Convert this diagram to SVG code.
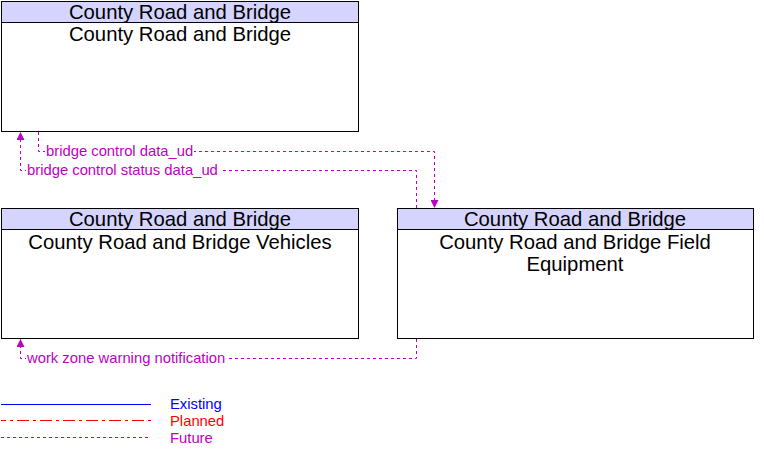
<svg xmlns="http://www.w3.org/2000/svg" width="764" height="456" viewBox="0 0 764 456">
<style>
.box{fill:#fff;stroke:#000;stroke-width:1}
.hdr{fill:#d4d4ff;stroke:#000;stroke-width:1}
.t{font-family:"Liberation Sans",Arial,sans-serif;font-size:20.3px;fill:#000;text-anchor:middle}
.lbl{font-family:"Liberation Sans",Arial,sans-serif;font-size:14.8px;fill:#bf00bf}
.bg{fill:#fff}
.fut{fill:none;stroke:#bf00bf;stroke-width:1;stroke-dasharray:3,3}
</style>
<defs>
<marker id="ah" viewBox="0 0 10 10" refX="10" refY="5" markerWidth="8" markerHeight="8" orient="auto" markerUnits="userSpaceOnUse">
<path d="M0,0 L10,5 L0,10 z" fill="#bf00bf"/>
</marker>
</defs>
<g id="node1">
<rect class="box" x="1.5" y="1.5" width="357" height="130"/>
<rect class="hdr" x="1.5" y="1.5" width="357" height="21"/>
<text class="t" x="180" y="19">County Road and Bridge</text>
<text class="t" x="180" y="41">County Road and Bridge</text>
</g>
<g id="node2">
<rect class="box" x="1.5" y="208.5" width="357" height="130"/>
<rect class="hdr" x="1.5" y="208.5" width="357" height="21"/>
<text class="t" x="180" y="226">County Road and Bridge</text>
<text class="t" x="180" y="249">County Road and Bridge Vehicles</text>
</g>
<g id="node3">
<rect class="box" x="397.5" y="208.5" width="356" height="130"/>
<rect class="hdr" x="397.5" y="208.5" width="356" height="21"/>
<text class="t" x="575" y="226">County Road and Bridge</text>
<text class="t" x="575" y="249">County Road and Bridge Field</text>
<text class="t" x="575" y="271">Equipment</text>
</g>
<g id="connectors">
<path class="fut" d="M38.5,132 V151.5 H434.5 V208" marker-end="url(#ah)"/>
<rect class="bg" x="45" y="143" width="149" height="16"/>
<text class="lbl" x="46" y="156">bridge control data_ud</text>
<path class="fut" d="M416.5,208 V170.5 H20.5 V132" marker-end="url(#ah)"/>
<rect class="bg" x="26" y="162" width="194" height="16"/>
<text class="lbl" x="27" y="175">bridge control status data_ud</text>
<path class="fut" d="M416.5,339 V358.5 H20.5 V339" marker-end="url(#ah)"/>
<rect class="bg" x="26" y="350" width="201" height="16"/>
<text class="lbl" x="27" y="363">work zone warning notification</text>
</g>
<g id="legend">
<line x1="1" y1="404.5" x2="151" y2="404.5" stroke="#0000ff" stroke-width="1"/>
<text x="170" y="409" style="font-family:'Liberation Sans',Arial,sans-serif;font-size:14.8px;fill:#0000ff">Existing</text>
<line x1="1" y1="420.5" x2="151" y2="420.5" stroke="#ff0000" stroke-width="1" stroke-dasharray="12,4,3,4" stroke-dashoffset="7"/>
<text x="170" y="426" style="font-family:'Liberation Sans',Arial,sans-serif;font-size:14.8px;fill:#ff0000">Planned</text>
<line x1="1" y1="437.5" x2="148" y2="437.5" class="fut"/>
<text x="170" y="443" class="lbl">Future</text>
</g>
</svg>
